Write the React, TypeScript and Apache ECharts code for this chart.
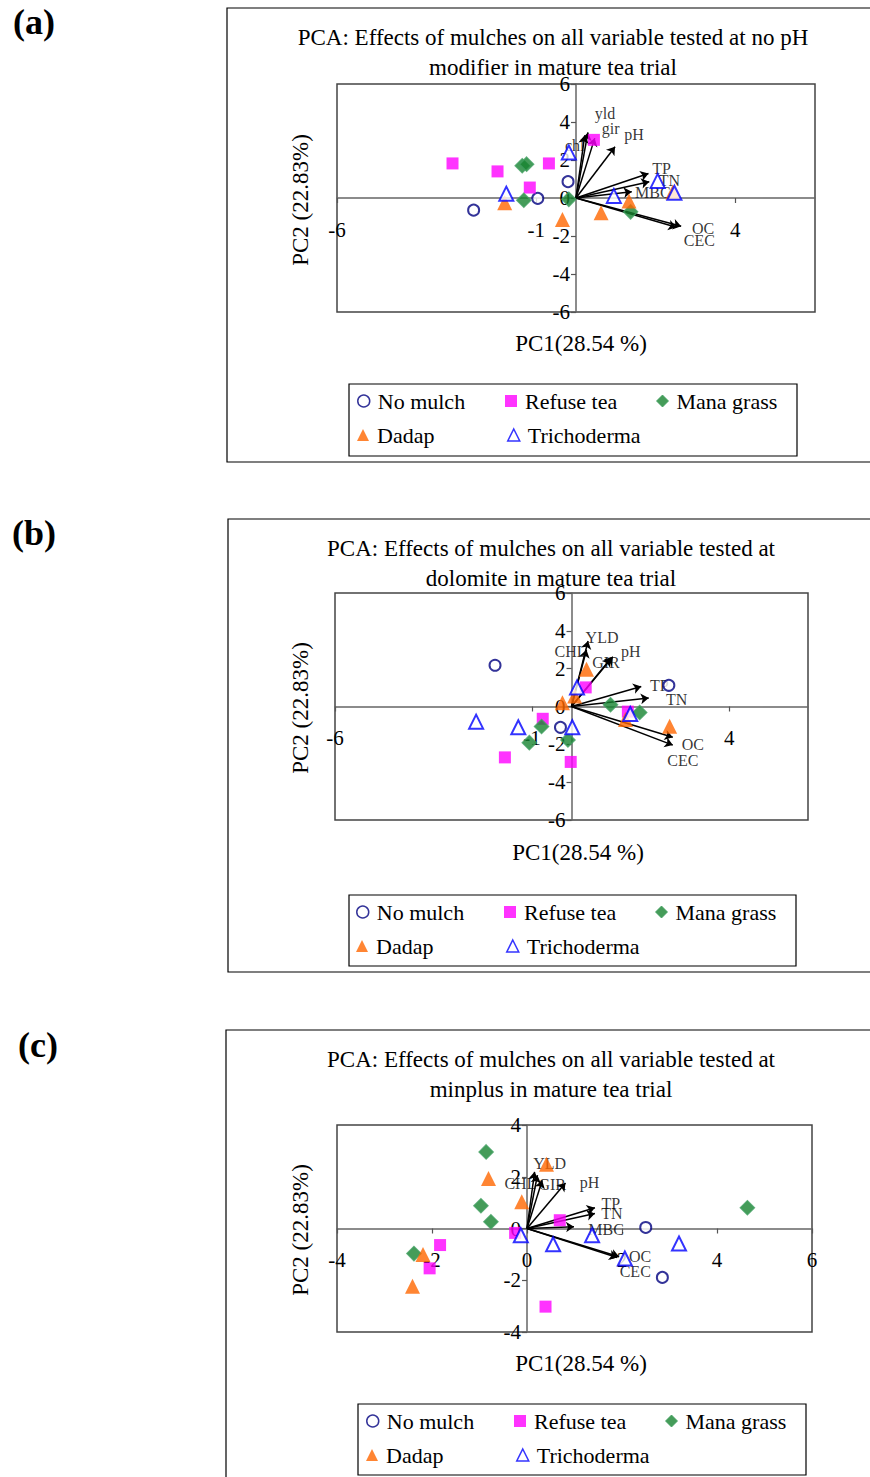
import React, { useEffect, useRef } from "react";
import * as echarts from "echarts";

// ---------- Panel (a): no pH modifier ----------
const noMulchA = [[-2.57, -0.64], [-0.96, -0.02], [-0.2, 0.86]];
const refuseTeaA = [[-3.1, 1.82], [-1.97, 1.4], [-0.68, 1.82], [-1.16, 0.55], [0.45, 3.06]];
const manaGrassA = [[-1.35, 1.7], [-1.24, 1.78], [-1.31, -0.12], [-0.18, -0.07], [1.37, -0.73]];
const dadapA = [[-1.79, -0.25], [-0.34, -1.13], [0.63, -0.78], [1.33, -0.16], [2.43, 0.32]];
const trichodermaA = [[-1.75, 0.23], [-0.18, 2.4], [0.95, 0.11], [2.05, 0.9], [2.47, 0.28]];
const loadingNamesA = ["yld", "gir", "chl", "pH", "TP", "TN", "MBC", "OC", "CEC"];
const loadingsA = [[0.3, 3.45], [0.47, 3.15], [0.22, 3.3], [0.98, 2.7], [1.82, 1.29], [1.84, 0.86], [1.4, 0.33], [2.64, -1.49], [2.52, -1.54]];
const xTicksA = [-6, -1, 4];

// ---------- Panel (b): dolomite ----------
const noMulchB = [[-1.94, 2.18], [-0.28, -1.1], [2.47, 1.12]];
const refuseTeaB = [[-0.73, -0.65], [-1.69, -2.69], [-0.02, -2.93], [0.36, 1.01], [1.43, -0.27]];
const manaGrassB = [[-0.76, -1.06], [-1.07, -1.91], [-0.09, -1.77], [0.99, 0.09], [1.73, -0.32]];
const dadapB = [[-0.23, 0.2], [0.08, 0.55], [0.38, 1.97], [1.37, -0.69], [2.49, -1.04]];
const trichodermaB = [[-2.42, -0.8], [-1.35, -1.1], [0.02, -1.1], [0.14, 1.01], [1.49, -0.4]];
const loadingNamesB = ["YLD", "CHL", "GIR", "pH", "TP", "TN", "OC", "CEC"];
const loadingsB = [[0.42, 3.46], [0.38, 3.0], [1.0, 2.55], [1.05, 2.63], [1.77, 1.06], [1.96, 0.45], [2.57, -1.63], [2.57, -2.04]];
const xTicksB = [-6, -1, 4];

// ---------- Panel (c): minplus ----------
const noMulchC = [[2.5, 0.04], [2.85, -1.89]];
const refuseTeaC = [[-1.83, -0.64], [-2.05, -1.54], [-0.25, -0.17], [0.69, 0.32], [0.39, -3.02]];
const manaGrassC = [[-0.86, 2.96], [-0.97, 0.88], [-0.76, 0.26], [-2.38, -0.97], [4.64, 0.8]];
const dadapC = [[-0.81, 1.93], [-0.11, 1.03], [-2.19, -1.0], [-2.41, -2.23], [0.41, 2.48]];
const trichodermaC = [[-0.13, -0.26], [0.55, -0.61], [1.37, -0.26], [2.06, -1.16], [3.2, -0.58]];
const loadingNamesC = ["YLD", "CHL", "GIR", "pH", "TP", "TN", "MBC", "OC", "CEC"];
const loadingsC = [[0.16, 2.19], [0.22, 2.06], [0.32, 1.86], [0.81, 1.76], [1.43, 0.8], [1.43, 0.58], [0.99, 0.07], [1.94, -1.09], [1.9, -1.12]];

const titlesA = ["PCA: Effects of mulches on all variable tested at no pH", "modifier in mature tea trial"];
const titlesB = ["PCA: Effects of mulches on all variable tested at", "dolomite in mature tea trial"];
const titlesC = ["PCA: Effects of mulches on all variable tested at", "minplus in mature tea trial"];
const xName = "PC1(28.54 %)";
const yName = "PC2 (22.83%)";
const groupNames = ["No mulch", "Refuse tea", "Mana grass", "Dadap", "Trichoderma"];

const FONT = "'Liberation Serif','Times New Roman',Times,serif";

// label offsets (pixels) relative to arrow heads
const offA: Record<string, number[]> = { yld: [17, -19], gir: [16, -10], chl: [-10, 10], pH: [19, -12], TP: [13, -5], TN: [20, -1], MBC: [21, 1], OC: [22, 2], CEC: [23, 13] };
const offB: Record<string, number[]> = { YLD: [14, -4], CHL: [-16, 2], GIR: [-5, 4], pH: [18, -5], TP: [18, -1], TN: [28, 2], OC: [20, 7], CEC: [10, 15] };
const offC: Record<string, number[]> = { YLD: [15, -8], CHL: [-17, 8], GIR: [10, 4], pH: [24, 0], TP: [16, -4], TN: [17, 0], MBC: [32, 3], OC: [21, 0], CEC: [18, 14] };

const styles: Record<string, any> = {
  "No mulch": { symbol: "circle", size: 11, itemStyle: { color: "#ffffff", borderColor: "#000080", borderWidth: 2 }, legend: { icon: "circle", itemStyle: { color: "#fff", borderColor: "#000080", borderWidth: 1.5 } } },
  "Refuse tea": { symbol: "rect", size: 12, itemStyle: { color: "#FF00FF" }, legend: { icon: "rect", itemStyle: { color: "#FF00FF" } } },
  "Mana grass": { symbol: "diamond", size: 14, itemStyle: { color: "#17832F", borderColor: "#3E9E5E", borderWidth: 1.5 }, legend: { icon: "diamond", itemStyle: { color: "#17832F", borderColor: "#3E9E5E", borderWidth: 1 } } },
  Dadap: { symbol: "triangle", size: 15, itemStyle: { color: "#FF6600" }, legend: { icon: "triangle", itemStyle: { color: "#FF6600" } } },
  Trichoderma: { symbol: "triangle", size: 14, itemStyle: { color: "#ffffff", borderColor: "#0000FF", borderWidth: 2 }, legend: { icon: "triangle", itemStyle: { color: "#fff", borderColor: "#0000FF", borderWidth: 1.5 } } },
};

const panels = [
  {
    groups: [noMulchA, refuseTeaA, manaGrassA, dadapA, trichodermaA],
    names: loadingNamesA, loads: loadingsA, off: offA, labelSize: 16,
    grid: { left: 337, top: 84, width: 478, height: 228 },
    x: { min: -6, max: 6, custom: xTicksA }, y: { min: -6, max: 6, interval: 2 },
    titles: titlesA, titleY: [37, 67], titleX: 553,
    xNamePos: [581, 343], yNamePos: [300, 200], tag: "(a)", tagPos: [34, 22],
    frame: { x: 227, y: 8, width: 665, height: 454 },
    legendBox: { x: 349, y: 384, width: 448, height: 72 },
    legendRows: [401, 435], legendCols: [[363, 511, 662], [363, 513]],
  },
  {
    groups: [noMulchB, refuseTeaB, manaGrassB, dadapB, trichodermaB],
    names: loadingNamesB, loads: loadingsB, off: offB, labelSize: 16,
    grid: { left: 335, top: 593, width: 473, height: 227 },
    x: { min: -6, max: 6, custom: xTicksB }, y: { min: -6, max: 6, interval: 2 },
    titles: titlesB, titleY: [548, 578], titleX: 551,
    xNamePos: [578, 852], yNamePos: [300, 708], tag: "(b)", tagPos: [34, 533],
    frame: { x: 228, y: 519, width: 665, height: 453 },
    legendBox: { x: 349, y: 895, width: 447, height: 71 },
    legendRows: [912, 946], legendCols: [[362, 510, 661], [362, 512]],
  },
  {
    groups: [noMulchC, refuseTeaC, manaGrassC, dadapC, trichodermaC],
    names: loadingNamesC, loads: loadingsC, off: offC, labelSize: 16,
    grid: { left: 337, top: 1125, width: 475, height: 207 },
    x: { min: -4, max: 6, interval: 2 }, y: { min: -4, max: 4, interval: 2 },
    titles: titlesC, titleY: [1059, 1089], titleX: 551,
    xNamePos: [581, 1363], yNamePos: [300, 1230], tag: "(c)", tagPos: [38, 1045],
    frame: { x: 226, y: 1030, width: 665, height: 470 },
    legendBox: { x: 358, y: 1404, width: 448, height: 71 },
    legendRows: [1421, 1455], legendCols: [[372, 520, 671], [372, 522]],
  },
];

function buildOption() {
  const grids: any[] = [];
  const xAxes: any[] = [];
  const yAxes: any[] = [];
  const series: any[] = [];
  const legends: any[] = [];
  const graphics: any[] = [];

  panels.forEach((p, i) => {
    grids.push({ ...p.grid, show: true, borderColor: "#444", borderWidth: 1.5, containLabel: false });
    // shift the axes so that they cross at the origin (labels move with them)
    const xOffset = -p.grid.height * (0 - p.y.min) / (p.y.max - p.y.min);
    const yOffset = -p.grid.width * (0 - p.x.min) / (p.x.max - p.x.min);
    const xa: any = {
      type: "value", gridIndex: i, min: p.x.min, max: p.x.max, position: "bottom", offset: xOffset,
      splitLine: { show: false },
      axisLine: { onZero: false, lineStyle: { color: "#666", width: 1.5 } },
      axisTick: { show: true, length: 5, lineStyle: { color: "#555", width: 1.2 } },
      axisLabel: { margin: 21, fontSize: 21, color: "#000", fontFamily: FONT, showMinLabel: true, showMaxLabel: true },
    };
    if ((p.x as any).custom) {
      xa.axisLabel.customValues = (p.x as any).custom;
      xa.axisTick.customValues = (p.x as any).custom;
    } else {
      xa.interval = (p.x as any).interval;
    }
    xAxes.push(xa);
    yAxes.push({
      type: "value", gridIndex: i, min: p.y.min, max: p.y.max, interval: p.y.interval, position: "left", offset: yOffset,
      splitLine: { show: false },
      axisLine: { onZero: false, lineStyle: { color: "#666", width: 1.5 } },
      axisTick: { show: true, length: 5, lineStyle: { color: "#555", width: 1.2 } },
      axisLabel: { margin: 6, fontSize: 21, color: "#000", fontFamily: FONT, showMinLabel: true, showMaxLabel: true },
    });

    // loading arrows
    series.push({
      type: "lines", coordinateSystem: "cartesian2d", xAxisIndex: i, yAxisIndex: i,
      silent: true, z: 3,
      symbol: ["none", "arrow"], symbolSize: [4, 8],
      lineStyle: { color: "#000", width: 1.5, opacity: 1, curveness: 0 },
      data: p.loads.map((v) => ({ coords: [[0, 0], v] })),
    });
    // loading labels
    series.push({
      type: "scatter", xAxisIndex: i, yAxisIndex: i, silent: true, z: 4,
      symbolSize: 0.1, itemStyle: { color: "rgba(0,0,0,0)" },
      label: { show: true, position: "inside", color: "#000", fontFamily: FONT, fontSize: p.labelSize },
      data: p.loads.map((v, j) => ({
        value: v,
        label: { formatter: p.names[j], offset: p.off[p.names[j]] || [0, 0] },
      })),
    });
    // group markers
    p.groups.forEach((g, k) => {
      const st = styles[groupNames[k]];
      series.push({
        type: "scatter", name: groupNames[k], xAxisIndex: i, yAxisIndex: i, z: 5,
        symbol: st.symbol, symbolSize: st.size, itemStyle: st.itemStyle,
        data: g,
      });
    });

    // frames and texts
    graphics.push({ type: "rect", shape: p.frame, style: { fill: "none", stroke: "#000", lineWidth: 1.2 }, z: 0 });
    graphics.push({ type: "rect", shape: p.legendBox, style: { fill: "none", stroke: "#000", lineWidth: 1.2 }, z: 0 });
    p.titles.forEach((t, j) => {
      graphics.push({ type: "text", x: p.titleX, y: p.titleY[j], style: { text: t, font: `23px ${FONT}`, fill: "#000", textAlign: "center", textVerticalAlign: "middle", align: "center", verticalAlign: "middle" } });
    });
    graphics.push({ type: "text", x: p.xNamePos[0], y: p.xNamePos[1], style: { text: xName, font: `23px ${FONT}`, fill: "#000", textAlign: "center", textVerticalAlign: "middle", align: "center", verticalAlign: "middle" } });
    graphics.push({ type: "text", x: p.yNamePos[0], y: p.yNamePos[1], rotation: Math.PI / 2, style: { text: yName, font: `23px ${FONT}`, fill: "#000", textAlign: "center", textVerticalAlign: "middle", align: "center", verticalAlign: "middle" } });
    graphics.push({ type: "text", x: p.tagPos[0], y: p.tagPos[1], style: { text: p.tag, font: `bold 36px ${FONT}`, fill: "#000", textAlign: "center", textVerticalAlign: "middle", align: "center", verticalAlign: "middle" } });

    // legends, one per item
    const order = [[0, 1, 2], [3, 4]];
    order.forEach((row, r) => {
      row.forEach((gi, c) => {
        const name = groupNames[gi];
        const st = styles[name];
        legends.push({
          left: p.legendCols[r][c] - 6, top: p.legendRows[r] - 12,
          padding: 0, itemWidth: 12, itemHeight: 12, selectedMode: false,
          textStyle: { fontFamily: FONT, fontSize: 22, color: "#000", lineHeight: 24, padding: [0, 0, 0, 3] },
          data: [{ name, icon: st.legend.icon, itemStyle: st.legend.itemStyle }],
        });
      });
    });
  });

  return {
    animation: false,
    backgroundColor: "#fff",
    grid: grids,
    xAxis: xAxes,
    yAxis: yAxes,
    legend: legends,
    series,
    graphic: graphics,
  };
}

export default function App() {
  const ref = useRef<HTMLDivElement>(null);
  useEffect(() => {
    if (!ref.current) return;
    const chart = echarts.init(ref.current, null, { renderer: "svg" });
    chart.setOption(buildOption() as any);
    return () => chart.dispose();
  }, []);
  return <div ref={ref} style={{ position: "absolute", left: 0, top: 0, width: 870, height: 1477 }} />;
}
